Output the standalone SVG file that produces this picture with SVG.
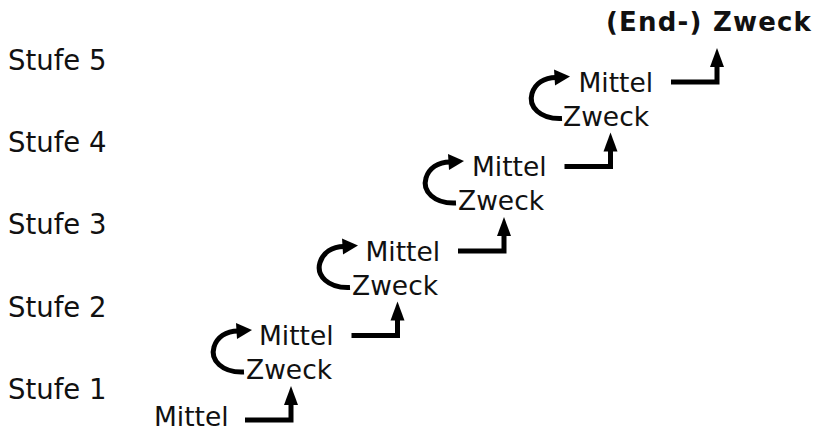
<svg xmlns="http://www.w3.org/2000/svg" width="817" height="432" viewBox="0 0 817 432">
  <defs>
    <style>
      text { font-family: "DejaVu Sans", "Liberation Sans", sans-serif; font-size: 26.5px; fill: #111; }
      .level { font-size: 27.5px; }
      .title { font-weight: bold; letter-spacing: 1.2px; font-size: 26px; }
      .line { fill: none; stroke: #000; stroke-width: 5; }
      .head { fill: #000; }
    </style>
    <!-- elbow connector: right, then up, ending in an arrowhead -->
    <g id="elbow">
      <path class="line" d="M245,420 H291 V402"/>
      <polygon class="head" points="291,386 298,405 284,405"/>
    </g>
    <!-- curved feedback arrow from Zweck back to Mittel -->
    <g id="loop">
      <path class="line" d="M244,372 C222,373 210,360 214,347 C217,337 226,331 238,331"/>
      <polygon class="head" points="252,330 236,323 237,339"/>
    </g>
  </defs>

  <rect width="817" height="432" fill="#fff"/>

  <!-- level labels -->
  <g id="levels">
    <text class="level" x="8" y="70">Stufe 5</text>
    <text class="level" x="8" y="152">Stufe 4</text>
    <text class="level" x="8" y="234">Stufe 3</text>
    <text class="level" x="8" y="317">Stufe 2</text>
    <text class="level" x="8" y="399">Stufe 1</text>
  </g>

  <g id="start">
    <text x="154" y="426">Mittel</text>
  </g>
  <g id="step1">
    <text x="259" y="345">Mittel</text>
    <text x="246" y="379">Zweck</text>
  </g>
  <g id="step2">
    <text x="365.5" y="260.5">Mittel</text>
    <text x="352" y="294.5">Zweck</text>
  </g>
  <g id="step3">
    <text x="472" y="176">Mittel</text>
    <text x="458" y="210">Zweck</text>
  </g>
  <g id="step4">
    <text x="578.5" y="91.5">Mittel</text>
    <text x="563" y="125.5">Zweck</text>
  </g>
  <g id="goal">
    <text class="title" x="606" y="31">(End-) Zweck</text>
  </g>

  <g id="connectors">
    <use href="#elbow"/>
    <use href="#elbow" transform="translate(106.5,-84.5)"/>
    <use href="#elbow" transform="translate(213,-169)"/>
    <use href="#elbow" transform="translate(319.5,-253.5)"/>
    <use href="#elbow" transform="translate(426,-338)"/>
    <use href="#loop"/>
    <use href="#loop" transform="translate(106,-84.5)"/>
    <use href="#loop" transform="translate(212,-169)"/>
    <use href="#loop" transform="translate(318,-253.5)"/>
  </g>
</svg>
